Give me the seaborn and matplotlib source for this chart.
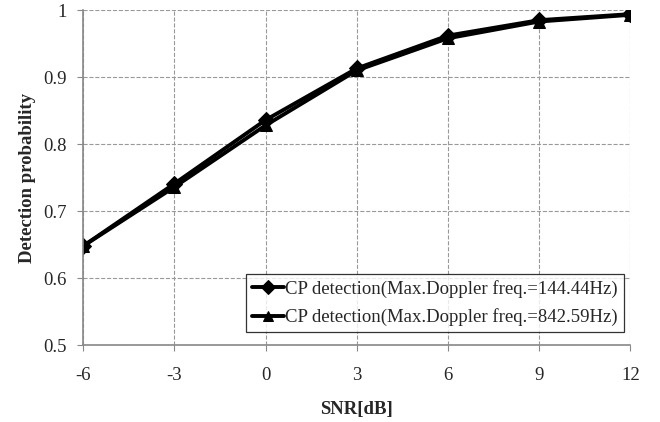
import pandas as pd
import matplotlib
matplotlib.use("Agg")
import matplotlib.pyplot as plt
import seaborn as sns

# valores
snr_db = [-6, -3, 0, 3, 6, 9, 12]
pd_144 = [0.648, 0.741, 0.836, 0.913, 0.962, 0.985, 0.994]
pd_842 = [0.648, 0.736, 0.828, 0.910, 0.958, 0.983, 0.993]
etiquetas = ["CP detection(Max.Doppler freq.=144.44Hz)",
             "CP detection(Max.Doppler freq.=842.59Hz)"]

df = pd.DataFrame({
    "snr": snr_db * 2,
    "prob": pd_144 + pd_842,
    "serie": [etiquetas[0]] * len(snr_db) + [etiquetas[1]] * len(snr_db),
})

sns.set_style("white")
plt.rcParams["font.family"] = ["Liberation Serif", "DejaVu Serif"]

fig = plt.figure(figsize=(6.6, 4.22), dpi=100)
ax = fig.add_axes([0.126, 0.182, 0.829, 0.794])

sns.lineplot(data=df, x="snr", y="prob", hue="serie", style="serie",
             palette=["black", "black"], markers=["D", "^"], dashes=False,
             linewidth=2.8, markersize=8, markeredgecolor="black", ax=ax)

ax.set_xlim(-6, 12)
ax.set_ylim(0.5, 1.0)
ax.set_xticks(snr_db)
ax.set_xticklabels([str(v) for v in snr_db])
ax.set_yticks([0.5, 0.6, 0.7, 0.8, 0.9, 1.0])
ax.set_yticklabels(["0.5", "0.6", "0.7", "0.8", "0.9", "1"])
ax.grid(True, linestyle="--", color="#999999", linewidth=0.8)
ax.set_axisbelow(True)

for lado in ["top", "right"]:
    ax.spines[lado].set_visible(False)
for lado in ["left", "bottom"]:
    ax.spines[lado].set_color("#888888")
    ax.spines[lado].set_linewidth(1.2)

ax.tick_params(axis="both", which="both", direction="out", length=4,
               color="#888888", labelsize=13.5, left=True, bottom=True)
ax.tick_params(axis="x", pad=12)
ax.tick_params(axis="y", pad=8)

ax.set_xlabel("SNR[dB]", fontsize=13.5, fontweight="bold", labelpad=12)
ax.set_ylabel("Detection probability", fontsize=13.5, fontweight="bold", labelpad=5)

leg = ax.legend(loc="lower right", bbox_to_anchor=(0.988, 0.04), fontsize=13.5,
                frameon=True, fancybox=False, edgecolor="black",
                handlelength=1.7, handletextpad=0.1, borderpad=0.3,
                borderaxespad=0, labelspacing=0.55, markerscale=0.85)
leg.get_frame().set_linewidth(0.9)

fig.savefig("out.png", dpi=100)
